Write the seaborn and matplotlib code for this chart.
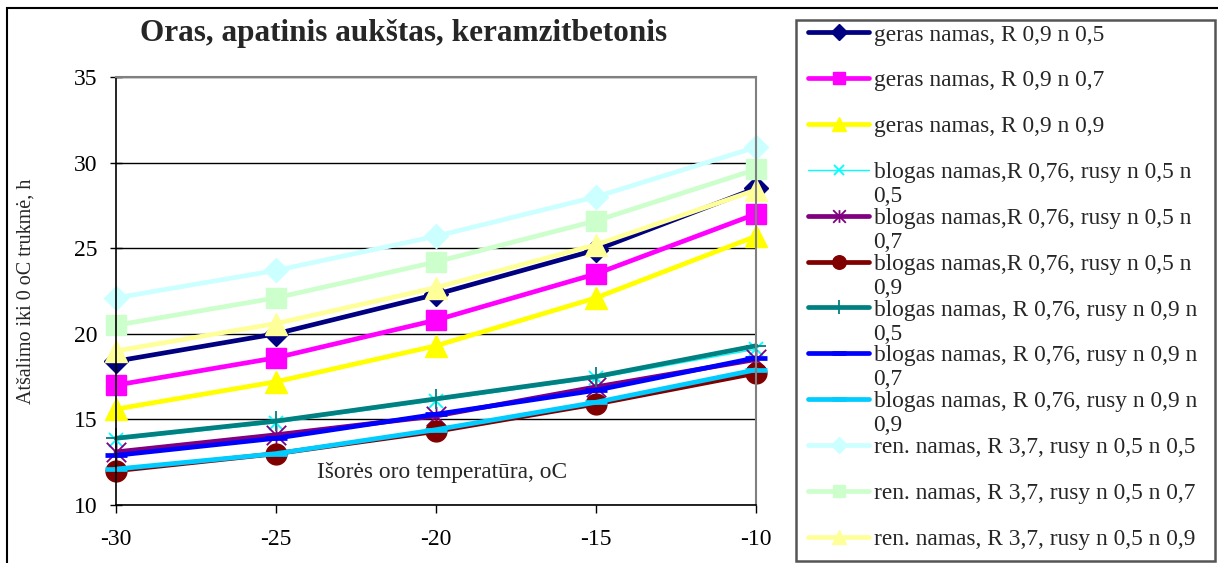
import matplotlib
matplotlib.use("Agg")
import matplotlib.pyplot as plt
import seaborn as sns
from matplotlib.path import Path
from matplotlib.patches import Rectangle

# ---------------- data ----------------
temps = [-30, -25, -20, -15, -10]

geras_05 = [18.4, 20.0, 22.3, 24.9, 28.5]
geras_07 = [17.0, 18.6, 20.8, 23.5, 27.0]
geras_09 = [15.6, 17.2, 19.3, 22.1, 25.7]
blogas_05_05 = [13.8, 14.8, 16.1, 17.4, 19.1]
blogas_05_07 = [13.1, 14.1, 15.2, 16.9, 18.5]
blogas_05_09 = [12.0, 13.0, 14.3, 15.9, 17.7]
blogas_09_05 = [13.9, 14.9, 16.2, 17.5, 19.3]
blogas_09_07 = [12.9, 13.9, 15.3, 16.7, 18.6]
blogas_09_09 = [12.1, 13.0, 14.4, 16.0, 17.9]
ren_05 = [22.1, 23.7, 25.7, 28.0, 30.9]
ren_07 = [20.5, 22.1, 24.2, 26.6, 29.6]
ren_09 = [19.0, 20.6, 22.7, 25.2, 28.4]

series_labels = [
    "geras namas, R 0,9 n 0,5",
    "geras namas, R 0,9 n 0,7",
    "geras namas, R 0,9 n 0,9",
    "blogas namas,R 0,76, rusy n 0,5 n\n0,5",
    "blogas namas,R 0,76, rusy n 0,5 n\n0,7",
    "blogas namas,R 0,76, rusy n 0,5 n\n0,9",
    "blogas namas, R 0,76, rusy n 0,9 n\n0,5",
    "blogas namas, R 0,76, rusy n 0,9 n\n0,7",
    "blogas namas, R 0,76, rusy n 0,9 n\n0,9",
    "ren. namas, R 3,7, rusy n 0,5 n 0,5",
    "ren. namas, R 3,7, rusy n 0,5 n 0,7",
    "ren. namas, R 3,7, rusy n 0,5 n 0,9",
]
series_values = [geras_05, geras_07, geras_09,
                 blogas_05_05, blogas_05_07, blogas_05_09,
                 blogas_09_05, blogas_09_07, blogas_09_09,
                 ren_05, ren_07, ren_09]

title = "Oras, apatinis aukštas, keramzitbetonis"
y_label = "Atšalimo iki 0 oC trukmė, h"
x_label = "Išorės oro temperatūra, oC"
y_ticks = [10, 15, 20, 25, 30, 35]
x_ticks = [-30, -25, -20, -15, -10]

# ---------------- styles ----------------
asterisk = Path([(0, -1), (0, 1), (-1, -1), (1, 1), (-1, 1), (1, -1)],
                [Path.MOVETO, Path.LINETO, Path.MOVETO, Path.LINETO,
                 Path.MOVETO, Path.LINETO])

styles = [
    dict(color="#000080", marker="D", ms=12, lw=3.4, mew=1),
    dict(color="#FF00FF", marker="s", ms=14, lw=3.4, mew=1),
    dict(color="#FFFF00", marker="^", ms=16, lw=3.4, mew=1),
    dict(color="#00FFFF", marker="x", ms=10, lw=1.0, mew=1.3),
    dict(color="#800080", marker=asterisk, ms=14, lw=3.4, mew=1.3),
    dict(color="#800000", marker="o", ms=15, lw=3.4, mew=1),
    dict(color="#008080", marker="+", ms=15, lw=3.4, mew=1.3),
    dict(color="#0000FF", marker="_", ms=16, lw=3.4, mew=3.4),
    dict(color="#00CCFF", marker="_", ms=16, lw=3.4, mew=3.4),
    dict(color="#CCFFFF", marker="D", ms=12, lw=3.4, mew=1),
    dict(color="#CCFFCC", marker="s", ms=14, lw=3.4, mew=1),
    dict(color="#FFFF99", marker="^", ms=16, lw=3.4, mew=1),
]

sns.set_style("white")
plt.rcParams["font.family"] = ["Liberation Serif", "DejaVu Serif"]

W, H = 1218, 563
fig = plt.figure(figsize=(W / 100, H / 100), dpi=100)
ax = fig.add_axes([116 / W, 1 - 505 / H, 640 / W, 428 / H])

for vals, st in zip(series_values, styles):
    sns.lineplot(x=temps, y=vals, ax=ax, color=st["color"], marker=st["marker"],
                 markersize=st["ms"], linewidth=st["lw"],
                 markeredgecolor=st["color"], markerfacecolor=st["color"],
                 markeredgewidth=st["mew"], legend=False, clip_on=False)

ax.set_xlim(-30, -10)
ax.set_ylim(10, 35)
ax.set_xticks(x_ticks)
ax.set_yticks(y_ticks)
ax.set_xticklabels([str(t) for t in x_ticks])
ax.set_yticklabels([str(t) for t in y_ticks])
ax.tick_params(axis="x", direction="out", length=5.5, width=1, pad=12,
               labelsize=17, colors="black", bottom=True)
ax.tick_params(axis="y", direction="inout", length=8.5, width=1, pad=9,
               labelsize=17, colors="black", left=True)
ax.yaxis.grid(True, color="black", linewidth=1)
ax.xaxis.grid(False)
for side in ["left", "bottom"]:
    ax.spines[side].set_color("black")
    ax.spines[side].set_linewidth(1.2)
for side in ["top", "right"]:
    ax.spines[side].set_color("#808080")
    ax.spines[side].set_linewidth(1.5)
ax.set_axisbelow(True)

ax.set_ylabel(y_label, fontsize=14.5)
ax.yaxis.set_label_coords(-0.125, 0.5)
ax.set_xlabel(x_label, fontsize=16.8)
ax.xaxis.set_label_coords(0.509, 0.1)

fig.text(404 / W, 1 - 33 / H, title, ha="center", va="center",
         fontsize=22.5, fontweight="bold")

# outer chart border
fig.patches.append(Rectangle((7 / W, -0.1), 1.2, 1.1 - 8 / H,
                             transform=fig.transFigure, fill=False,
                             edgecolor="black", linewidth=1.5, clip_on=False))
# legend frame (fixed size, as in the source chart)
fig.patches.append(Rectangle((796 / W, 1 - 561 / H), (1215 - 796) / W, (561 - 20) / H,
                             transform=fig.transFigure, facecolor="white",
                             edgecolor="#555555", linewidth=1.8, zorder=4))

# legend entries
handles = ax.get_lines()[:len(series_labels)]
first_lines = [s.split("\n")[0] for s in series_labels]
cont_lines = [s.split("\n")[1] if "\n" in s else "" for s in series_labels]
leg = fig.legend(handles, first_lines, loc="upper left",
                 bbox_to_anchor=(804 / W, 1 - 20 / H), borderaxespad=0,
                 fontsize=16.8, handlelength=2.6, handletextpad=0.2,
                 labelspacing=1.05, borderpad=0.18, markerscale=0.65,
                 frameon=False)
leg.set_zorder(6)

fig.canvas.draw()
renderer = fig.canvas.get_renderer()
inv = fig.transFigure.inverted()
for t, cont in zip(leg.get_texts(), cont_lines):
    if not cont:
        continue
    bb = t.get_window_extent(renderer)
    _, _, d = renderer.get_text_width_height_descent(
        t.get_text(), t.get_fontproperties(), ismath=False)
    baseline = bb.y0 + d
    xf, yf = inv.transform((bb.x0, baseline - 24))
    fig.text(xf, yf, cont, ha="left", va="baseline", fontsize=16.8, zorder=10)

fig.savefig("out.png", dpi=100)
